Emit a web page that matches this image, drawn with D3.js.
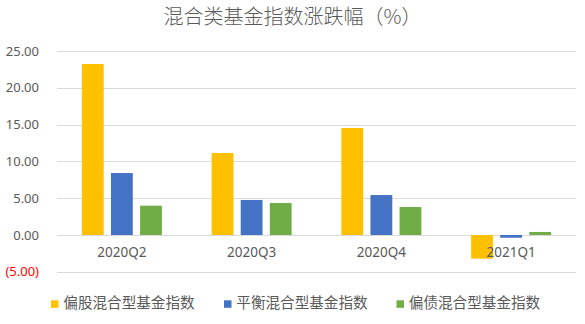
<!DOCTYPE html>
<html>
<head>
<meta charset="utf-8">
<script src="https://cdn.jsdelivr.net/npm/d3@7"></script>
<style>
  html, body { margin: 0; padding: 0; background: #fff; }
  svg { display: block; font-family: "Noto Sans CJK SC", "Noto Sans", sans-serif; }
</style>
</head>
<body>
<svg id="chart" width="585" height="324"></svg>
<script>
// Quarterly returns of hybrid fund indices (%)
const quarters = ["2020Q2", "2020Q3", "2020Q4", "2021Q1"];
const seriesNames = ["偏股混合型基金指数", "平衡混合型基金指数", "偏债混合型基金指数"];
const equityBiased = [23.23, 11.14, 14.54, -3.22];
const balanced = [8.42, 4.76, 5.43, -0.37];
const bondBiased = [3.98, 4.35, 3.80, 0.41];
const yTicks = [-5, 0, 5, 10, 15, 20, 25];
const colors = ["#FFC000", "#4472C4", "#70AD47"];
const titleText = "混合类基金指数涨跌幅（%）";

const seriesValues = [equityBiased, balanced, bondBiased];

const svg = d3.select("#chart");
const plot = { left: 57, right: 576, top: 51, bottom: 271.8 };

const x = d3.scaleBand().domain(quarters).range([plot.left, plot.right]).paddingInner(0).paddingOuter(0);
const xSub = d3.scaleBand().domain(d3.range(seriesNames.length)).range([0, 80]).paddingInner(0.25);
const y = d3.scaleLinear().domain([-5, 25]).range([plot.bottom, plot.top]);

// Title
svg.append("text")
  .attr("x", 292.5).attr("y", 24)
  .attr("text-anchor", "middle")
  .attr("font-size", 20).attr("font-weight", 300).attr("fill", "#595959")
  .text(titleText);

// Horizontal grid lines
svg.append("g").selectAll("line").data(yTicks).join("line")
  .attr("x1", plot.left).attr("x2", plot.right)
  .attr("y1", d => Math.round(y(d)) + 0.5).attr("y2", d => Math.round(y(d)) + 0.5)
  .attr("stroke", "#d9d9d9").attr("stroke-width", 1);

// Y axis labels, negatives in accounting style
const fmt = d => d < 0 ? "(" + d3.format(".2f")(-d) + ")" : d3.format(".2f")(d);
const yAxis = d3.axisLeft(y).tickValues(yTicks).tickFormat(fmt).tickSize(0).tickPadding(0);
const yg = svg.append("g").attr("transform", "translate(39,0)").call(yAxis);
yg.select(".domain").remove();
yg.selectAll("text")
  .attr("font-family", "'Noto Sans', sans-serif")
  .attr("font-size", 13)
  .attr("fill", d => d < 0 ? "#FF0000" : "#595959");

// Bars
const groups = svg.append("g").selectAll("g").data(quarters).join("g")
  .attr("transform", q => `translate(${x(q) + x.bandwidth() / 2 - 40},0)`);
groups.selectAll("rect")
  .data((q, qi) => seriesValues.map((vals, si) => ({ si, v: vals[qi] })))
  .join("rect")
  .attr("x", d => xSub(d.si))
  .attr("width", xSub.bandwidth())
  .attr("y", d => y(Math.max(0, d.v)))
  .attr("height", d => Math.abs(y(d.v) - y(0)))
  .attr("fill", d => colors[d.si]);

// Category labels
const xAxis = d3.axisBottom(x).tickSize(0).tickPadding(0);
const xg = svg.append("g").attr("transform", `translate(0,${y(0) + 12})`).call(xAxis);
xg.select(".domain").remove();
xg.selectAll("text")
  .attr("font-family", "'Noto Sans', sans-serif")
  .attr("font-size", 13.5).attr("fill", "#595959");

// Legend
const legendX = [51, 224, 396.5];
const legend = svg.append("g").selectAll("g").data(seriesNames).join("g")
  .attr("transform", (d, i) => `translate(${legendX[i]},296)`);
legend.append("rect").attr("width", 7.5).attr("height", 7.5).attr("y", 4.3)
  .attr("fill", (d, i) => colors[i]);
legend.append("text").attr("x", 12.3).attr("y", 11.8)
  .attr("font-size", 14.6).attr("fill", "#595959")
  .text(d => d);
</script>
</body>
</html>
